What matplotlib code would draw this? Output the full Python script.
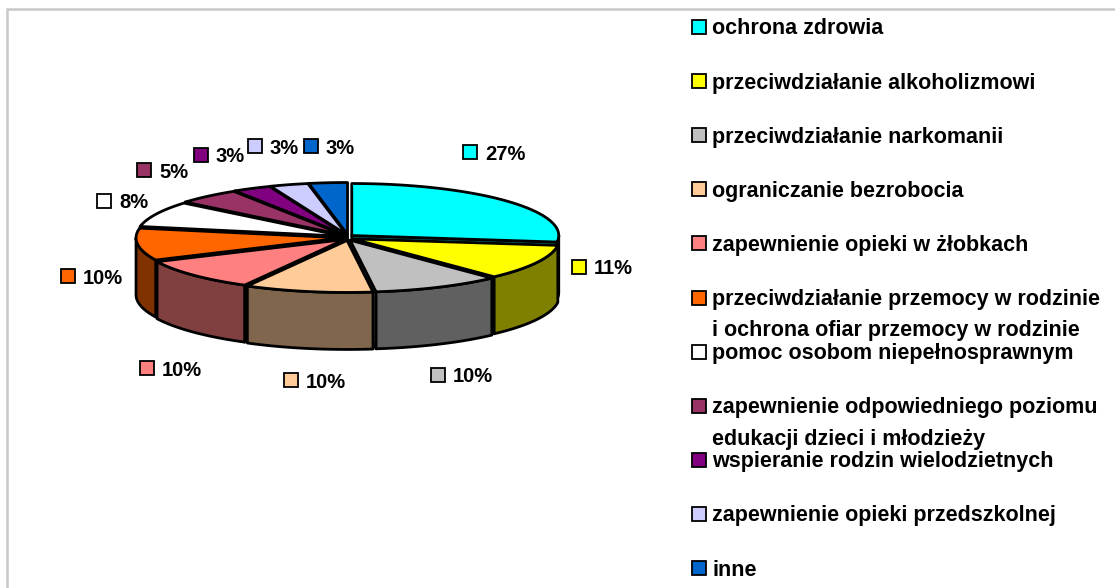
import numpy as np
import matplotlib.pyplot as plt
from matplotlib.patches import Polygon, Rectangle

# data
categories = [
    'ochrona zdrowia',
    'przeciwdziałanie alkoholizmowi',
    'przeciwdziałanie narkomanii',
    'ograniczanie bezrobocia',
    'zapewnienie opieki w żłobkach',
    'przeciwdziałanie przemocy w rodzinie\ni ochrona ofiar przemocy w rodzinie',
    'pomoc osobom niepełnosprawnym',
    'zapewnienie odpowiedniego poziomu\nedukacji dzieci i młodzieży',
    'wspieranie rodzin wielodzietnych',
    'zapewnienie opieki przedszkolnej',
    'inne',
]
values = [27, 11, 10, 10, 10, 10, 8, 5, 3, 3, 3]
colors = ['#00FFFF', '#FFFF00', '#C0C0C0', '#FFCC99', '#FF8080', '#FF6600',
          '#FFFFFF', '#993366', '#800080', '#CCCCFF', '#0066CC']
pct_labels = [f'{v}%' for v in values]

# layout (pixels)
cx, cy = 348, 237.5
rx, ry = 207, 52
depth = 57
explode = 5
label_xy = [(463, 152), (572, 267), (431, 375), (284, 380), (140, 368), (61, 276),
            (97, 201), (137, 170), (194, 155), (248, 146), (304, 146)]
leg_x, leg_y0, leg_step = 692, 27, 54.1
sq = 14
font = 'Liberation Sans'
edge_lw = 2.0

fig = plt.figure(figsize=(11.15, 5.88), dpi=100)
ax = fig.add_axes([0, 0, 1, 1])
ax.set_xlim(0, 1115)
ax.set_ylim(588, 0)
ax.axis('off')

# frame
ax.plot([7, 7, 1115], [588, 9, 9], color='#C8C8C8', lw=1.8, solid_joinstyle='miter')


def dark(c):
    r, g, b = [int(c[i:i + 2], 16) / 255 for i in (1, 3, 5)]
    return (r * 0.5, g * 0.5, b * 0.5)


def arc(t1, t2, ox, oy, dz=0):
    n = max(int(abs(t2 - t1)) + 2, 2)
    ts = np.radians(np.linspace(t1, t2, n))
    return np.column_stack([cx + ox + rx * np.cos(ts), cy + oy - ry * np.sin(ts) + dz])


total = sum(values)
cum = np.concatenate([[0], np.cumsum(values)])
walls = []
tops = []
for i, v in enumerate(values):
    t1 = 90 - 360 * cum[i] / total
    t2 = 90 - 360 * cum[i + 1] / total
    m = np.radians((t1 + t2) / 2)
    ox = explode * np.cos(m)
    oy = -explode * np.sin(m) * 0.6
    apex = np.array([cx + ox, cy + oy])

    # outer wall (front half only)
    a, b = min(t1, 0), max(t2, -180)
    if a > b:
        top = arc(a, b, ox, oy)
        bot = arc(b, a, ox, oy, depth)
        walls.append((top[:, 1].mean(), np.vstack([top, bot]), dark(colors[i])))

    # cut faces
    for t, vis in ((t1, np.cos(np.radians(t1)) < 0), (t2, np.cos(np.radians(t2)) > 0)):
        if vis:
            e = arc(t, t, ox, oy)[0]
            pts = np.array([apex, e, e + [0, depth], apex + [0, depth]])
            walls.append(((apex[1] + e[1]) / 2, pts, dark(colors[i])))

    tops.append((np.vstack([apex, arc(t1, t2, ox, oy)]), colors[i]))

for _, pts, c in sorted(walls, key=lambda w: w[0]):
    ax.add_patch(Polygon(pts, closed=True, facecolor=c, edgecolor='black',
                         lw=edge_lw, joinstyle='round'))
for pts, c in tops:
    ax.add_patch(Polygon(pts, closed=True, facecolor=c, edgecolor='black',
                         lw=edge_lw, joinstyle='round'))

# data labels
for (x, y), lab, c in zip(label_xy, pct_labels, colors):
    ax.add_patch(Rectangle((x, y - sq / 2), sq, sq, facecolor=c, edgecolor='black', lw=1.3))
    ax.text(x + sq + 8, y + 7.5, lab, ha='left', va='baseline', fontsize=14.5,
            fontweight='bold', family=font)

# legend
for i, (lab, c) in enumerate(zip(categories, colors)):
    y = leg_y0 + i * leg_step
    ax.add_patch(Rectangle((leg_x, y - sq / 2), sq, sq, facecolor=c, edgecolor='black', lw=1.3))
    ax.text(leg_x + sq + 6, y - 8.5, lab, ha='left', va='top', fontsize=15.5,
            fontweight='bold', family=font, linespacing=1.65)

fig.savefig('out.png', dpi=100)
